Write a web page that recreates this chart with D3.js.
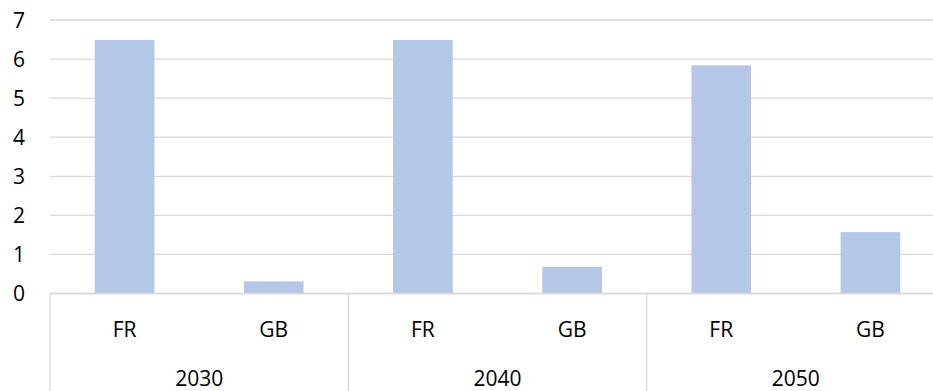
<!DOCTYPE html>
<html>
<head>
<meta charset="utf-8">
<script src="https://cdn.jsdelivr.net/npm/d3@7"></script>
<style>
  html, body { margin: 0; padding: 0; background: #fff; overflow: hidden; }
  svg { display: block; font-family: "Open Sans", sans-serif; }
</style>
</head>
<body>
<svg id="chart" width="933" height="391"></svg>
<script>
// Years (outer groups) and countries (inner categories)
const years = ["2030", "2040", "2050"];
const countries = ["FR", "GB"];
// Values per year, in country order
const frValues = [6.49, 6.49, 5.84];
const gbValues = [0.31, 0.68, 1.57];
const yTicks = [0, 1, 2, 3, 4, 5, 6, 7];

const rows = [];
years.forEach((yr, i) => {
  rows.push({ year: yr, country: countries[0], value: frValues[i], key: yr + "-FR" });
  rows.push({ year: yr, country: countries[1], value: gbValues[i], key: yr + "-GB" });
});

const svg = d3.select("#chart");
const plotLeft = 50, plotRight = 945, plotTop = 20, zeroY = 293.5, tableBottom = 391;

const y = d3.scaleLinear().domain([0, 7]).range([zeroY, plotTop]);
const x = d3.scaleBand()
  .domain(rows.map(d => d.key))
  .range([plotLeft, plotRight])
  .paddingInner(0.6)
  .paddingOuter(0.3);
const xYear = d3.scaleBand().domain(years).range([plotLeft, plotRight]);

// Horizontal gridlines
svg.append("g")
  .selectAll("line")
  .data(yTicks)
  .join("line")
  .attr("x1", plotLeft).attr("x2", plotRight)
  .attr("y1", d => y(d)).attr("y2", d => y(d))
  .attr("stroke", "#d9d9d9")
  .attr("stroke-width", 1.3);

// Y-axis labels
svg.append("g")
  .selectAll("text")
  .data(yTicks)
  .join("text")
  .attr("x", 25)
  .attr("y", d => y(d))
  .attr("dy", "0.36em")
  .attr("text-anchor", "end")
  .attr("font-size", 21)
  .attr("fill", "#000")
  .text(d => d);

// Bars
svg.append("g")
  .selectAll("rect")
  .data(rows)
  .join("rect")
  .attr("x", d => x(d.key))
  .attr("width", x.bandwidth())
  .attr("y", d => y(d.value))
  .attr("height", d => y(0) - y(d.value))
  .attr("fill", "#b4c7e7");

// Baseline
svg.append("line")
  .attr("x1", plotLeft).attr("x2", plotRight)
  .attr("y1", zeroY).attr("y2", zeroY)
  .attr("stroke", "#d9d9d9")
  .attr("stroke-width", 1.3);

// Group separators in the category table
const seps = years.map(yr => xYear(yr)).concat([plotRight]);
svg.append("g")
  .selectAll("line")
  .data(seps)
  .join("line")
  .attr("x1", d => d).attr("x2", d => d)
  .attr("y1", zeroY).attr("y2", tableBottom)
  .attr("stroke", "#d9d9d9")
  .attr("stroke-width", 1.3);

// Country labels
svg.append("g")
  .selectAll("text")
  .data(rows)
  .join("text")
  .attr("x", d => x(d.key) + x.bandwidth() / 2)
  .attr("y", 336.5)
  .attr("text-anchor", "middle")
  .attr("font-size", 21)
  .attr("fill", "#000")
  .text(d => d.country);

// Year labels
svg.append("g")
  .selectAll("text")
  .data(years)
  .join("text")
  .attr("x", d => xYear(d) + xYear.bandwidth() / 2)
  .attr("y", 386)
  .attr("text-anchor", "middle")
  .attr("font-size", 21)
  .attr("fill", "#000")
  .text(d => d);
</script>
</body>
</html>
